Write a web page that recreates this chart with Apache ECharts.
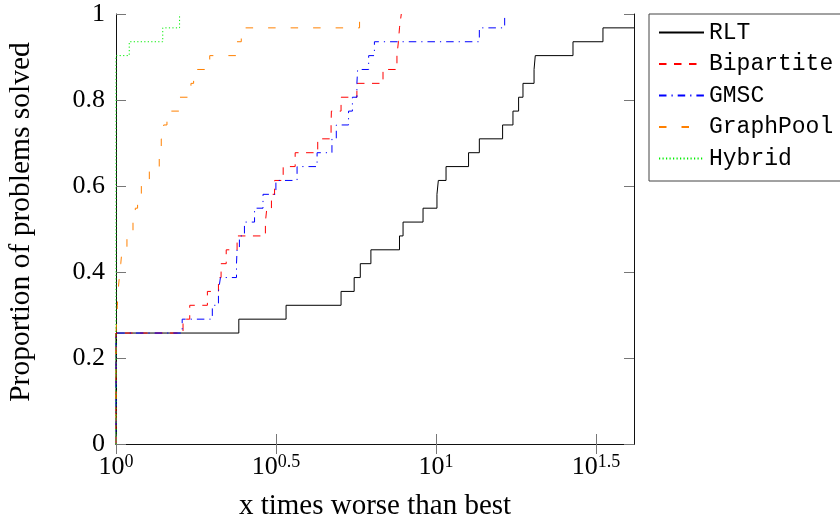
<!DOCTYPE html>
<html>
<head>
<meta charset="utf-8">
<script src="https://cdn.jsdelivr.net/npm/echarts@6/dist/echarts.min.js"></script>
<style>
html,body{margin:0;padding:0;background:#fff;}
#chart{width:840px;height:521px;}
</style>
</head>
<body>
<div id="chart"></div>
<script>
// ---- data (performance-profile ratios, sorted, one per solved problem) ----
const solverNames = ['RLT', 'Bipartite', 'GMSC', 'GraphPool', 'Hybrid'];
const nProblems = 31;
const xMin = 1;
const xMax = 41.57;
const xTickExponents = [0, 0.5, 1, 1.5];
const yTicks = [0, 0.2, 0.4, 0.6, 0.8, 1];

const rltRatios = [1, 1, 1, 1, 1, 1, 1, 1, 2.42, 3.40, 5.05, 5.55, 5.80, 6.26, 7.69, 7.89, 9.11, 10.07, 10.17, 10.75, 12.64, 13.66, 16.15, 17.40, 18.12, 18.70, 20.25, 20.43, 26.80, 33.25];
const bipartiteRatios = [1, 1, 1, 1, 1, 1, 1, 1, 1.62, 1.70, 1.93, 2.09, 2.13, 2.21, 2.39, 2.93, 2.96, 3.06, 3.13, 3.33, 3.63, 4.27, 4.70, 4.71, 5.05, 5.66, 6.83, 7.55, 7.63, 7.69, 7.79];
const gmscRatios = [1, 1, 1, 1, 1, 1, 1, 1, 1.61, 2.00, 2.09, 2.12, 2.38, 2.39, 2.43, 2.52, 2.71, 2.88, 3.16, 3.68, 4.25, 4.73, 4.88, 5.33, 5.48, 5.66, 5.69, 6.16, 6.42, 13.66, 16.39];
const graphPoolRatios = [1, 1, 1, 1, 1, 1, 1, 1, 1.005, 1.01, 1.015, 1.024, 1.035, 1.044, 1.082, 1.13, 1.149, 1.168, 1.20, 1.271, 1.365, 1.385, 1.409, 1.443, 1.58, 1.715, 1.748, 1.963, 2.388, 2.463, 5.77];
const hybridRatios = [1, 1, 1, 1, 1, 1, 1, 1, 1, 1, 1, 1, 1, 1, 1, 1, 1, 1, 1, 1, 1, 1, 1, 1, 1, 1, 1, 1, 1.10, 1.40, 1.58];

const seriesRatios = [rltRatios, bipartiteRatios, gmscRatios, graphPoolRatios, hybridRatios];
const seriesColors = ['#000000', '#ff0000', '#0000ff', '#ff8000', '#00ee00'];
const seriesDash = ['solid', [7.5, 7.5], [7.5, 5, 1.2, 5], [7.5, 15], [1.2, 2.3]];

// ---- build step curves ----
function profile(ratios) {
  const pts = [[xMin, 0]];
  ratios.forEach(function (r, i) { pts.push([r, (i + 1) / nProblems]); });
  if (ratios.length < nProblems) pts.push([xMax, ratios.length / nProblems]);
  return pts;
}

const serif = 'Liberation Serif';
const mono = 'Liberation Mono';
const xTickValues = xTickExponents.map(function (e) { return Math.pow(10, e); });

const series = solverNames.map(function (name, i) {
  return {
    name: name,
    type: 'line',
    step: 'end',
    symbol: 'none',
    showSymbol: false,
    data: profile(seriesRatios[i]),
    lineStyle: { color: seriesColors[i], width: 1, type: seriesDash[i] },
    itemStyle: { color: seriesColors[i] },
    emphasis: { disabled: true },
    animation: false
  };
});

function xLabel(v) {
  const e = Math.round(Math.log10(v) * 2) / 2;
  return '{b|10}{s|' + e + '}';
}

function tickStyle(vals) {
  const t = { show: true, inside: true, length: 10, lineStyle: { color: '#777', width: 1 } };
  if (vals) t.customValues = vals;
  return t;
}
const frameLine = { show: true, lineStyle: { color: '#111', width: 1 } };

const option = {
  backgroundColor: '#fff',
  animation: false,
  grid: { left: 116, right: 206, top: 14, bottom: 77, containLabel: false, outerBoundsMode: 'none' },
  legend: {
    orient: 'vertical',
    left: 649,
    top: 14,
    padding: [7, 30, 11, 9],
    itemGap: 8.5,
    itemWidth: 45,
    itemHeight: 14,
    borderColor: '#444',
    borderWidth: 1,
    itemStyle: { opacity: 0 },
    textStyle: { fontFamily: mono, fontSize: 23, color: '#000' },
    data: solverNames
  },
  xAxis: [
    {
      type: 'log', logBase: Math.sqrt(10), min: xMin, max: xMax,
      position: 'bottom',
      name: 'x times worse than best', nameLocation: 'middle', nameGap: 48,
      nameTextStyle: { fontFamily: serif, fontSize: 29, color: '#000' },
      axisLine: frameLine, axisTick: tickStyle(xTickValues), splitLine: { show: false },
      minorTick: { show: false },
      axisLabel: {
        show: true, margin: 9, formatter: xLabel, customValues: xTickValues,
        rich: {
          b: { fontFamily: serif, fontSize: 26, color: '#000', verticalAlign: 'bottom', lineHeight: 27 },
          s: { fontFamily: serif, fontSize: 18, color: '#000', verticalAlign: 'top', lineHeight: 27 }
        }
      }
    },
    {
      type: 'log', logBase: Math.sqrt(10), min: xMin, max: xMax,
      position: 'top',
      axisLine: frameLine, axisTick: tickStyle(xTickValues), axisLabel: { show: false }, splitLine: { show: false }
    }
  ],
  yAxis: [
    {
      type: 'value', min: 0, max: 1, interval: 0.2,
      position: 'left',
      name: 'Proportion of problems solved', nameLocation: 'middle', nameGap: 80,
      nameTextStyle: { fontFamily: serif, fontSize: 29.5, color: '#000', padding: [0, 0, 0, 14] },
      axisLine: frameLine, axisTick: tickStyle(null), splitLine: { show: false },
      axisLabel: {
        margin: 11, fontFamily: serif, fontSize: 26, color: '#000',
        formatter: function (v) { return String(Math.round(v * 10) / 10); }
      }
    },
    {
      type: 'value', min: 0, max: 1, interval: 0.2,
      position: 'right',
      axisLine: frameLine, axisTick: tickStyle(null), axisLabel: { show: false }, splitLine: { show: false }
    }
  ],
  series: series
};

const chart = echarts.init(document.getElementById('chart'), null, { renderer: 'canvas' });
chart.setOption(option);
</script>
</body>
</html>
